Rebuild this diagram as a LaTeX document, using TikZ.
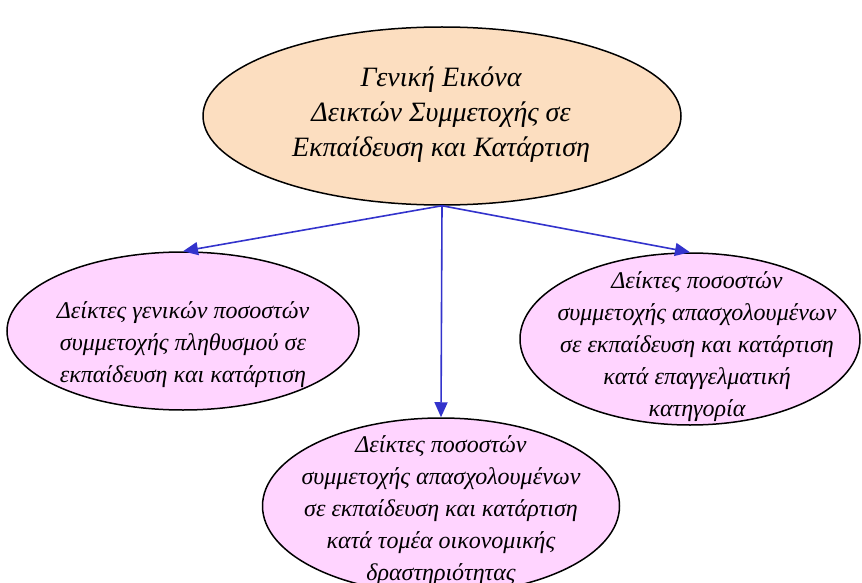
\documentclass[tikz,border=0pt]{standalone}
\usepackage{fontspec}
\setmainfont{Liberation Serif}
\usetikzlibrary{shapes.geometric,arrows.meta}
\definecolor{peach}{RGB}{252,222,192}
\definecolor{lpink}{RGB}{255,212,255}
\definecolor{arrblue}{RGB}{51,51,204}
\tikzset{
  ell/.style={ellipse,draw=black,line width=1.5pt,inner sep=0pt},
  topell/.style={ell,fill=peach},
  subell/.style={ell,fill=lpink},
  toptext/.style={align=center,inner sep=0pt,font=\itshape\fontsize{28}{35}\selectfont},
  subtext/.style={align=center,inner sep=0pt,font=\itshape\fontsize{24}{32}\selectfont},
  conn/.style={draw=arrblue,line width=1.6pt,-{Triangle[length=15pt,width=13pt]}}
}
\begin{document}
\begin{tikzpicture}[x=1pt,y=-1pt]
\useasboundingbox (0,0) rectangle (862,583);
\node[topell,minimum width=478pt,minimum height=178pt] (top) at (442,116) {};
\node[toptext] (toptx) at (441,115)
  {Γενική Εικόνα\\Δεικτών Συμμετοχής σε\\Εκπαίδευση και Κατάρτιση};
\node[subell,minimum width=352pt,minimum height=158pt] (left) at (183,331) {};
\node[subtext] (lefttx) at (183,345)
  {Δείκτες γενικών ποσοστών\\συμμετοχής πληθυσμού σε\\εκπαίδευση και κατάρτιση};
\node[subell,minimum width=340pt,minimum height=172pt] (right) at (690,339) {};
\node[subtext] (righttx) at (697,347)
  {Δείκτες ποσοστών\\συμμετοχής απασχολουμένων\\σε εκπαίδευση  και  κατάρτιση\\κατά επαγγελματική\\κατηγορία};
\node[subell,minimum width=357pt,minimum height=176pt] (bottom) at (441,506) {};
\node[subtext] (bottomtx) at (441,511)
  {Δείκτες ποσοστών\\συμμετοχής απασχολουμένων\\σε εκπαίδευση  και  κατάρτιση\\κατά τομέα  οικονομικής\\δραστηριότητας};
\draw[conn] (top.south) -- (left.north);
\draw[conn] (top.south) -- (bottom.north);
\draw[conn] (top.south) -- (right.north);
\end{tikzpicture}
\end{document}
